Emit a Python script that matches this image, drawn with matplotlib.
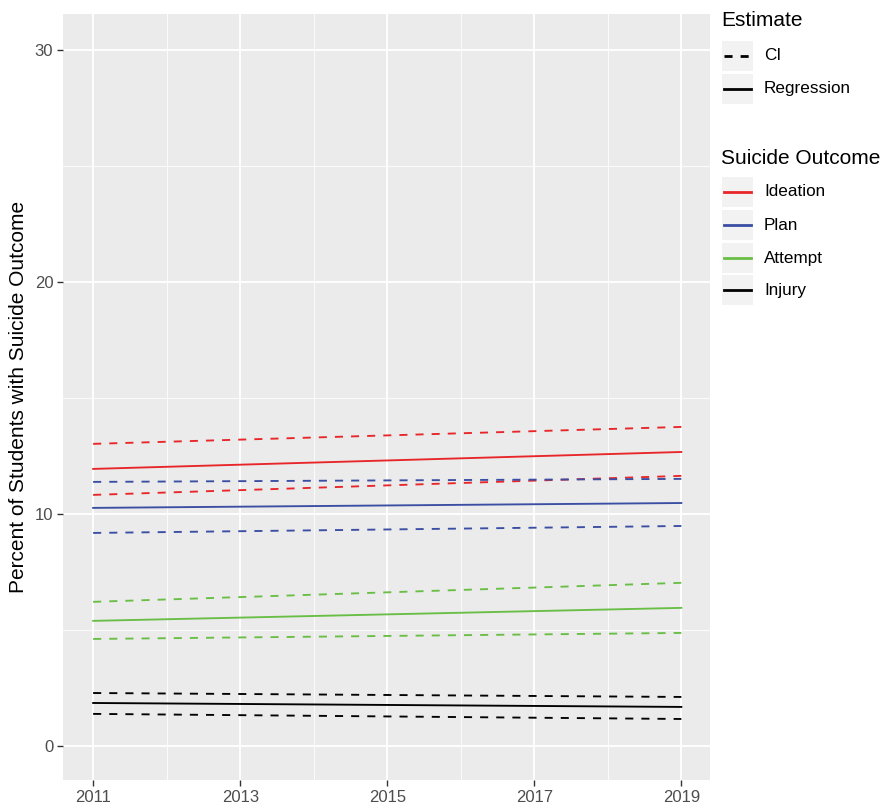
import matplotlib.pyplot as plt
from matplotlib.lines import Line2D
from matplotlib.patches import Rectangle

plt.rcParams['font.family'] = ['Liberation Sans', 'DejaVu Sans']

# endpoints of each fitted line (2011 and 2019)
years = [2011, 2019]
outcomes = ["Ideation", "Plan", "Attempt", "Injury"]
colors = ["#e8262a", "#3a4ea3", "#69be45", "#000000"]

regression = {
    "Ideation": [11.94, 12.67],
    "Plan": [10.26, 10.47],
    "Attempt": [5.39, 5.95],
    "Injury": [1.85, 1.68],
}
ci_upper = {
    "Ideation": [13.02, 13.75],
    "Plan": [11.38, 11.51],
    "Attempt": [6.21, 7.03],
    "Injury": [2.28, 2.11],
}
ci_lower = {
    "Ideation": [10.82, 11.64],
    "Plan": [9.18, 9.48],
    "Attempt": [4.61, 4.87],
    "Injury": [1.38, 1.16],
}

x_ticks = [2011, 2013, 2015, 2017, 2019]
y_ticks = [0, 10, 20, 30]

W, H = 880, 806
fig = plt.figure(figsize=(W / 100, H / 100), dpi=100)
# panel in pixel coords: left 63, right 710, top 14, bottom 780
ax = fig.add_axes([63 / W, 1 - 780 / H, (710 - 63) / W, (780 - 14) / H])
ax.set_facecolor("#ebebeb")
for s in ax.spines.values():
    s.set_visible(False)

lw = 1.35
dash = (0, (4.3, 4.3))
for name, col in zip(outcomes, colors):
    ax.plot(years, ci_upper[name], color=col, lw=lw, linestyle=dash, zorder=3)
    ax.plot(years, ci_lower[name], color=col, lw=lw, linestyle=dash, zorder=3)
    ax.plot(years, regression[name], color=col, lw=lw, zorder=3)

ax.set_xlim(2010.59, 2019.39)
ax.set_ylim(-1.47, 31.55)
ax.set_xticks(x_ticks)
ax.set_yticks(y_ticks)
ax.set_xticks([2012, 2014, 2016, 2018], minor=True)
ax.set_yticks([5, 15, 25], minor=True)
ax.grid(which="major", color="white", lw=1.3)
ax.grid(which="minor", color="white", lw=0.6)
ax.set_axisbelow(True)
ax.tick_params(which="major", colors="#333333", labelcolor="#4d4d4d",
               labelsize=12, length=4, width=1, pad=3)
ax.tick_params(which="minor", length=0)
ax.set_ylabel("Percent of Students with Suicide Outcome", fontsize=15, labelpad=5)

# legend drawn by hand, ggplot style
def px(x, y):
    return x / W, 1 - y / H

fig.text(*px(721, 20), "Estimate", fontsize=15, va="center", ha="left")
est_rows = [("CI", dash, 41), ("Regression", "-", 74)]
for label, ls, top in est_rows:
    x0, y0 = px(722, top + 30)
    fig.patches.append(Rectangle((x0, y0), 31 / W, 30 / H, transform=fig.transFigure,
                                 facecolor="#f2f2f2", edgecolor="none"))
    yc = 1 - (top + 15) / H
    ls_key = (0, (2.9, 2.9)) if ls != "-" else "-"
    fig.add_artist(Line2D([724 / W, 751 / W], [yc, yc], color="black",
                          lw=2, linestyle=ls_key, transform=fig.transFigure))
    fig.text(764 / W, yc, label, fontsize=12.3, va="center", ha="left")

fig.text(*px(721, 158), "Suicide Outcome", fontsize=15, va="center", ha="left")
tops = [177, 210, 243, 275]
for name, col, top in zip(outcomes, colors, tops):
    x0, y0 = px(722, top + 30)
    fig.patches.append(Rectangle((x0, y0), 31 / W, 30 / H, transform=fig.transFigure,
                                 facecolor="#f2f2f2", edgecolor="none"))
    yc = 1 - (top + 15) / H
    fig.add_artist(Line2D([724 / W, 751 / W], [yc, yc], color=col,
                          lw=2, transform=fig.transFigure))
    fig.text(764 / W, yc, name, fontsize=12.3, va="center", ha="left")

fig.savefig("out.png", dpi=100)
